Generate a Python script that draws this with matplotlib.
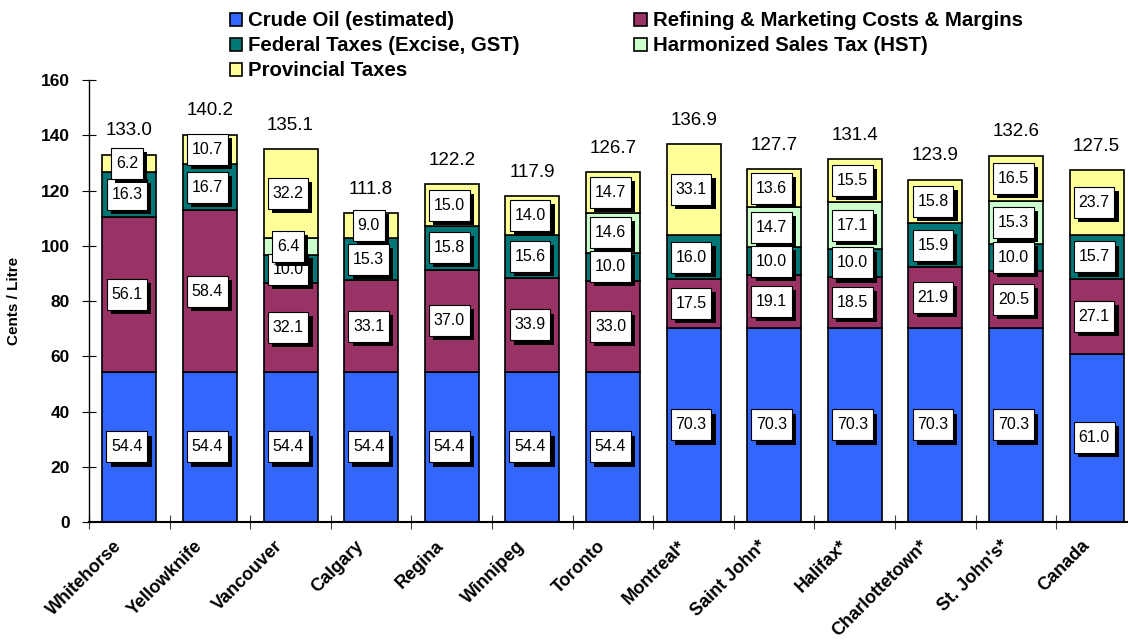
import numpy as np
import matplotlib
matplotlib.use("Agg")
import matplotlib.pyplot as plt
import matplotlib.patheffects as pe
import matplotlib.transforms as mtransforms
from matplotlib.path import Path

plt.rcParams['font.family'] = ['Liberation Sans', 'DejaVu Sans']

# data (cents / litre)
cities = ['Whitehorse', 'Yellowknife', 'Vancouver', 'Calgary', 'Regina', 'Winnipeg',
          'Toronto', 'Montreal*', 'Saint John*', 'Halifax*', 'Charlottetown*',
          "St. John's*", 'Canada']
crude = [54.4, 54.4, 54.4, 54.4, 54.4, 54.4, 54.4, 70.3, 70.3, 70.3, 70.3, 70.3, 61.0]
refining = [56.1, 58.4, 32.1, 33.1, 37.0, 33.9, 33.0, 17.5, 19.1, 18.5, 21.9, 20.5, 27.1]
federal = [16.3, 16.7, 10.0, 15.3, 15.8, 15.6, 10.0, 16.0, 10.0, 10.0, 15.9, 10.0, 15.7]
hst = [0, 0, 6.4, 0, 0, 0, 14.6, 0, 14.7, 17.1, 0, 15.3, 0]
provincial = [6.2, 10.7, 32.2, 9.0, 15.0, 14.0, 14.7, 33.1, 13.6, 15.5, 15.8, 16.5, 23.7]
totals = [133.0, 140.2, 135.1, 111.8, 122.2, 117.9, 126.7, 136.9, 127.7, 131.4, 123.9, 132.6, 127.5]

series = [
    ('Crude Oil (estimated)', crude, '#3366FF'),
    ('Refining & Marketing Costs & Margins', refining, '#993366'),
    ('Federal Taxes (Excise, GST)', federal, '#007777'),
    ('Harmonized Sales Tax (HST)', hst, '#CCFFCC'),
    ('Provincial Taxes', provincial, '#FFFF99'),
]


# label box: less padding left/right than top/bottom
def tall_box(x0, y0, width, height, mutation_size):
    px = 0.3 * mutation_size
    py = 0.5 * mutation_size
    x0, y0 = x0 - px, y0 - py
    x1, y1 = x0 + width + 2 * px, y0 + height + 2 * py
    return Path([(x0, y0), (x1, y0), (x1, y1), (x0, y1), (x0, y0)], closed=True)


fig = plt.figure(figsize=(11.28, 6.44), dpi=100)
ax = fig.add_axes([0.0789, 0.1894, 0.929, 0.6863])

x = np.arange(len(cities))
bottom = np.zeros(len(cities))
handles = {}
for name, vals, color in series:
    vals = np.array(vals, dtype=float)
    bars = ax.bar(x, vals, 0.67, bottom=bottom, color=color, edgecolor='black',
                  linewidth=1.2, label=name, zorder=2)
    handles[name] = bars
    for xi, b, v in zip(x, bottom, vals):
        if v <= 0:
            continue
        t = ax.text(xi - 0.03, b + v / 2, f'{v:.1f}', ha='center', va='center',
                    fontsize=11.5, zorder=5,
                    bbox=dict(boxstyle=tall_box, facecolor='white',
                              edgecolor='black', linewidth=0.8))
        t.get_bbox_patch().set_path_effects(
            [pe.withSimplePatchShadow(offset=(3, -3), shadow_rgbFace='black', alpha=1.0)])
    bottom += vals

for xi, tot in zip(x, totals):
    ax.annotate(f'{tot:.1f}', (xi, tot), xytext=(0, 11), textcoords='offset points',
                ha='center', va='bottom', fontsize=13.5, zorder=6)

ax.set_xlim(-0.5, 12.5)
ax.set_ylim(0, 160)
ax.set_yticks(np.arange(0, 161, 20))
ax.tick_params(axis='y', direction='inout', length=10, width=0.8, labelsize=12.5, pad=9)
for lbl in ax.get_yticklabels():
    lbl.set_fontweight('bold')

ax.set_xticks(x)
ax.set_xticklabels(cities, rotation=45, ha='right', rotation_mode='anchor',
                   fontsize=13, fontweight='bold')
ax.tick_params(axis='x', which='major', length=0, pad=11)
shift = mtransforms.ScaledTranslation(-16 / 100, 0, fig.dpi_scale_trans)
for lbl in ax.get_xticklabels():
    lbl.set_transform(lbl.get_transform() + shift)
ax.set_xticks(np.arange(-0.5, 12.6, 1), minor=True)
ax.tick_params(axis='x', which='minor', direction='inout', length=10, width=0.8, color='#444444')

ax.spines['top'].set_visible(False)
ax.spines['right'].set_visible(False)
ax.spines['left'].set_linewidth(1.0)
ax.spines['bottom'].set_linewidth(1.5)

ax.set_ylabel('Cents / Litre', fontsize=11, fontweight='bold', labelpad=14)

order = ['Crude Oil (estimated)', 'Federal Taxes (Excise, GST)', 'Provincial Taxes',
         'Refining & Marketing Costs & Margins', 'Harmonized Sales Tax (HST)']
leg = fig.legend([handles[n] for n in order], order, ncol=2, loc='upper left',
                 bbox_to_anchor=(0.194, 1.0), frameon=False,
                 prop={'weight': 'bold', 'size': 14.7}, handlelength=0.6,
                 handleheight=0.6, handletextpad=0.3, labelspacing=0.3,
                 columnspacing=5.6, borderaxespad=0.15)

fig.savefig('out.png', dpi=100)
